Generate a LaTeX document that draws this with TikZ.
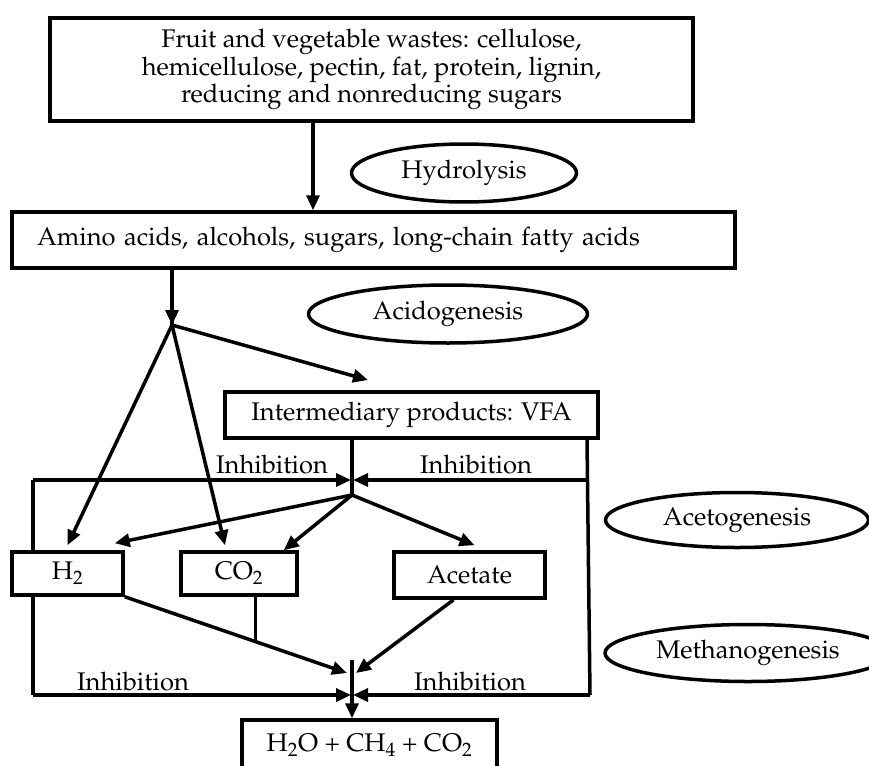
\documentclass[tikz,border=0pt]{standalone}
\usepackage[T1]{fontenc}
\usepackage{mathpazo}
\usetikzlibrary{shapes.geometric,arrows.meta,calc}
\begin{document}
\begin{tikzpicture}[x=1pt,y=-1pt,
  every node/.style={font=\fontsize{25.5}{27.5}\selectfont},
  box/.style={draw, line width=3.5pt, rectangle, inner sep=0pt, align=center, fill=white},
  stage/.style={draw, ellipse, line width=3.5pt, inner sep=0pt},
  flow/.style={line width=3.5pt, -{Triangle[length=15pt,width=13pt]}},
  link/.style={line width=3.5pt},
  lbl/.style={inner sep=0pt}
]
\useasboundingbox (0,0) rectangle (869,765);
\fill[white] (0,0) rectangle (869,765);
\clip (0,0) rectangle (869,765);

% junction points
\coordinate (a1) at (313,0);
\coordinate (J1) at (172,325);
\coordinate (tipI) at (368,380);
\coordinate (V) at (352,480);
\coordinate (S) at (352,495);
\coordinate (TL) at (33,480);
\coordinate (BL) at (33,695);
\coordinate (TR) at (587,480);
\coordinate (BR) at (590,695);
\coordinate (W) at (352,695);
\coordinate (mL) at (347,673);
\coordinate (mR) at (356,673);
\coordinate (mT) at (352,660);

% left side of the inhibition loop runs behind the H2 box
\draw[link] (TL) -- (BL);

% boxes
\node[box, minimum width=643pt, minimum height=103pt] (waste) at (371.5,69.5)
  {Fruit and vegetable wastes: cellulose,\\hemicellulose, pectin, fat, protein, lignin,\\reducing and nonreducing sugars};
\node[box, minimum height=56pt, text width=673pt, inner xsep=25pt, align=left] (amino) at (373.5,240)
  {Amino acids, alcohols, sugars, long-chain fatty acids};
\node[box, minimum width=373pt, minimum height=46pt] (inter) at (411.5,415)
  {Intermediary products: VFA};
\node[box, minimum width=111pt, minimum height=43pt] (h2) at (67.5,573.5) {H\textsubscript{2}};
\node[box, minimum width=116pt, minimum height=43pt] (co2) at (239,573.5) {CO\textsubscript{2}};
\node[box, minimum width=151pt, minimum height=46pt] (acet) at (469.5,575) {Acetate};
\node[box, minimum width=255pt, minimum height=50pt] (prod) at (369.5,745)
  {H\textsubscript{2}O + CH\textsubscript{4} + CO\textsubscript{2}};

% stages
\node[stage, minimum width=225pt, minimum height=58pt] (hyd) at (464,173) {Hydrolysis};
\node[stage, minimum width=279pt, minimum height=58pt] (acid) at (448,314) {Acidogenesis};
\node[stage, minimum width=263pt, minimum height=55pt] (aceto) at (737,520) {Acetogenesis};
\node[stage, minimum width=286pt, minimum height=57pt] (metha) at (748,653) {Methanogenesis};

% hydrolysis and acidogenesis
\draw[flow] (waste.south -| a1) -- (amino.north -| a1);
\draw[link] (amino.south -| J1) -- (J1);
\draw[flow] ($(J1)+(0,-16)$) -- (J1);
\draw[flow] (J1) -- (tipI);
\draw[flow] (J1) -- ([yshift=5pt]h2.north);
\draw[flow] (J1) -- ([xshift=-14pt,yshift=5pt]co2.north);

% acetogenesis
\draw[link] (inter.south -| S) -- (S);
\draw[flow] (S) -- ([xshift=-10pt,yshift=7pt]h2.north east);
\draw[flow] (S) -- ([xshift=-15pt]co2.north east);
\draw[flow] (S) -- ([xshift=5pt,yshift=5pt]acet.north);

% inhibition loops
\draw[link] (inter.south -| TR) -- (BR);
\draw[flow, shorten >=1pt] (TL) -- (V);
\draw[flow, shorten >=1pt] (TR) -- (V);
\draw[flow, shorten >=1pt] (BL) -- (W);
\draw[flow, shorten >=1pt] (BR) -- (W);

% methanogenesis
\draw[flow] (h2.south east) -- (mL);
\coordinate (j2) at ($(h2.south east)!0.589!(mL)$);
\draw[link] (co2.south -| j2) -- (j2);
\draw[flow] ([xshift=-16pt]acet.south) -- (mR);
\draw[flow] (mT) -- (prod.north -| mT);

% labels
\node[lbl] (i1) at (272,465) {Inhibition};
\node[lbl] (i2) at (476,465) {Inhibition};
\node[lbl] (i3) at (133,682) {Inhibition};
\node[lbl] (i4) at (470,682) {Inhibition};
\end{tikzpicture}
\end{document}
